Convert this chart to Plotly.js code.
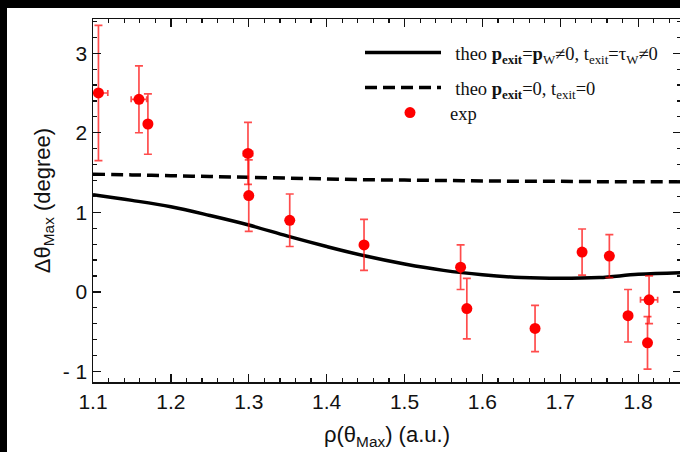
<!DOCTYPE html>
<html>
<head>
<meta charset="utf-8">
<script src="https://cdn.plot.ly/plotly-3.0.1.min.js"></script>
<style>
  html, body { margin: 0; padding: 0; background: #000; width: 680px; height: 452px; overflow: hidden; }
  #wrap { position: absolute; left: 7px; top: 8px; width: 673px; height: 444px; overflow: hidden; background: #fff; }
  #chart { position: absolute; left: 0; top: 0; width: 690px; height: 444px; }
</style>
</head>
<body>
<div id="wrap"><div id="chart"></div></div>
<script>
// ---- data ----
const curveX = [1.10, 1.15, 1.20, 1.25, 1.30, 1.35, 1.40, 1.45, 1.50, 1.55, 1.60, 1.65, 1.70, 1.75, 1.80, 1.855];
const theoFull = [1.22, 1.15, 1.07, 0.96, 0.84, 0.70, 0.57, 0.45, 0.35, 0.27, 0.215, 0.18, 0.17, 0.18, 0.22, 0.24];
const theoZero = [1.48, 1.47, 1.46, 1.45, 1.44, 1.43, 1.42, 1.41, 1.405, 1.40, 1.395, 1.39, 1.39, 1.385, 1.385, 1.385];

const expX    = [1.107, 1.159, 1.1705, 1.299, 1.300, 1.3526, 1.448, 1.572, 1.580, 1.6676, 1.728, 1.763, 1.787, 1.814, 1.812];
const expY    = [2.50, 2.42, 2.11, 1.74, 1.21, 0.90, 0.59, 0.31, -0.21, -0.46, 0.50, 0.45, -0.30, -0.10, -0.64];
const expYErr = [0.85, 0.42, 0.38, 0.39, 0.45, 0.33, 0.32, 0.28, 0.38, 0.29, 0.29, 0.27, 0.33, 0.30, 0.33];
const expXErr = [0.012, 0.010, 0, 0.006, 0, 0, 0, 0, 0, 0, 0, 0, 0, 0.011, 0];

const yTickVals = [-1, 0, 1, 2, 3];
const yTickText = ['- 1', '0', '1', '2', '3'];
const xTickVals = [1.1, 1.2, 1.3, 1.4, 1.5, 1.6, 1.7, 1.8];
const xTickText = ['1.1', '1.2', '1.3', '1.4', '1.5', '1.6', '1.7', '1.8'];

const labelFull = '\u00a0\u00a0theo <b>p</b><sub><b>exit</b></sub>=<b>p</b><sub>W</sub>≠0, t<sub>exit</sub>=τ<sub>W</sub>≠0';
const labelZero = '\u00a0\u00a0theo <b>p</b><sub><b>exit</b></sub>=0, t<sub>exit</sub>=0';
const labelExp = 'exp';

// ---- geometry helpers (page px -> paper) ----
const PL = 93, PR = 681, PT = 19, PB = 382;
const px2x = p => (p - PL) / (PR - PL);
const py2y = p => (PB - p) / (PB - PT);

const traces = [
  { x: curveX, y: theoFull, mode: 'lines', name: labelFull, legend: 'legend',
    line: { color: '#000', width: 3.5, shape: 'spline' } },
  { x: curveX, y: theoZero, mode: 'lines', name: labelZero, legend: 'legend2',
    line: { color: '#000', width: 3.5, dash: '12px,6px', shape: 'spline' } },
  { x: expX, y: expY, mode: 'markers', name: labelExp, legend: 'legend3',
    marker: { color: '#ff0000', size: 11 },
    error_y: { type: 'data', array: expYErr, visible: true, color: 'rgba(255,0,0,0.7)', thickness: 1.7, width: 4 },
    error_x: { type: 'data', array: expXErr, visible: true, color: 'rgba(255,0,0,0.7)', thickness: 1.7, width: 3 } }
];

const legFont = { family: 'Liberation Serif, Times New Roman, serif', size: 18.5, color: '#111' };
const legBase = { bgcolor: 'rgba(0,0,0,0)', borderwidth: 0, font: legFont, xanchor: 'left', yanchor: 'middle', itemwidth: 76 };

const axisCommon = {
  showgrid: false, zeroline: false, showline: true, linecolor: '#111', linewidth: 1.5,
  ticks: 'inside', ticklen: 8, tickwidth: 1.3, tickcolor: '#111', mirror: 'ticks',
  tickfont: { family: 'Liberation Sans, Arial, sans-serif', size: 21, color: '#111' }
};

const layout = {
  width: 690, height: 444,
  margin: { l: 86, r: 16, t: 11, b: 70 },
  paper_bgcolor: '#fff', plot_bgcolor: '#fff',
  showlegend: true,
  xaxis: Object.assign({}, axisCommon, {
    range: [1.1, 1.855], tickmode: 'array', tickvals: xTickVals, ticktext: xTickText,
    minor: { dtick: 0.02, tick0: 1.1, ticks: 'inside', ticklen: 4, tickwidth: 1.2, tickcolor: '#111' },
    title: { text: 'ρ(θ<sub>Max</sub>) (a.u.)', font: { family: 'Liberation Sans, Arial, sans-serif', size: 22, color: '#111' }, standoff: 15 }
  }),
  yaxis: Object.assign({}, axisCommon, {
    range: [-1.133, 3.43], tickmode: 'array', tickvals: yTickVals, ticktext: yTickText,
    minor: { dtick: 0.2, tick0: 0, ticks: 'inside', ticklen: 4, tickwidth: 1.2, tickcolor: '#111' },
    title: { text: 'Δθ<sub>Max</sub> (degree)', font: { family: 'Liberation Sans, Arial, sans-serif', size: 22, color: '#111' }, standoff: 6 }
  }),
  legend: Object.assign({}, legBase, { x: px2x(360), y: py2y(53) }),
  legend2: Object.assign({}, legBase, { x: px2x(360), y: py2y(88) }),
  legend3: Object.assign({}, legBase, { x: px2x(370), y: py2y(113), itemwidth: 70 })
};

Plotly.newPlot('chart', traces, layout, { displayModeBar: false, staticPlot: true });
</script>
</body>
</html>
